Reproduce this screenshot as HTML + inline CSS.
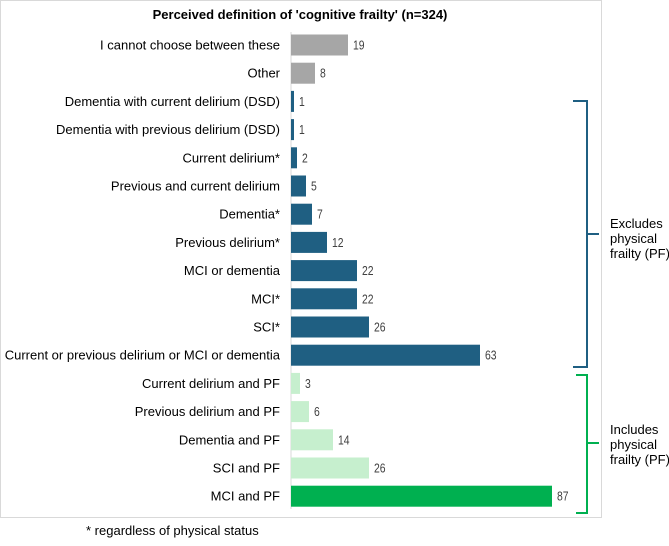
<!DOCTYPE html>
<html><head><meta charset="utf-8"><style>
body{margin:0;background:#fff;width:669px;height:541px;overflow:hidden;font-family:"Liberation Sans",Arial,sans-serif}
</style></head><body>
<svg width="669" height="541" xmlns="http://www.w3.org/2000/svg">
<rect x="0.5" y="0.5" width="601" height="517" fill="#fff" stroke="#d9d9d9"/>
<text x="300" y="19" text-anchor="middle" font-size="13" font-weight="bold" fill="#000">Perceived definition of 'cognitive frailty' (n=324)</text>
<line x1="291" y1="32" x2="291" y2="509" stroke="#d9d9d9"/>
<g id="bars"></g>
<path d="M573 101 H587 V234 H599 M587 234 V367 H573" fill="none" stroke="#1f5f82" stroke-width="2"/>
<path d="M576 375 H587 V443 H599 M587 443 V513 H576" fill="none" stroke="#00b050" stroke-width="2"/>
<g font-size="13" fill="#000">
<text x="610" y="228">Excludes</text><text x="610" y="243">physical</text><text x="610" y="258">frailty (PF)</text></g>
<g font-size="13" fill="#000">
<text x="610" y="434">Includes</text><text x="610" y="449">physical</text><text x="610" y="464">frailty (PF)</text></g>
<text x="86" y="535" font-size="13" fill="#000">* regardless of physical status</text>
</svg>
<script>
const categories=["I cannot choose between these","Other","Dementia with current delirium (DSD)","Dementia with previous delirium (DSD)","Current delirium*","Previous and current delirium","Dementia*","Previous delirium*","MCI or dementia","MCI*","SCI*","Current or previous delirium or MCI or dementia","Current delirium and PF","Previous delirium and PF","Dementia and PF","SCI and PF","MCI and PF"];
const values=[19,8,1,1,2,5,7,12,22,22,26,63,3,6,14,26,87];
const colors=["#a6a6a6","#a6a6a6","#1f5f82","#1f5f82","#1f5f82","#1f5f82","#1f5f82","#1f5f82","#1f5f82","#1f5f82","#1f5f82","#1f5f82","#c6efce","#c6efce","#c6efce","#c6efce","#00b050"];
const x0=291, xs=3.0, y0=45, step=28.2, bh=21;
const xScale=v=>x0+v*xs, yScale=i=>y0+i*step;
const g=document.getElementById('bars'), NS="http://www.w3.org/2000/svg";
categories.forEach((c,i)=>{
  const cy=yScale(i);
  const r=document.createElementNS(NS,'rect');
  r.setAttribute('x',x0);r.setAttribute('y',cy-bh/2);
  r.setAttribute('width',xScale(values[i])-x0);r.setAttribute('height',bh);
  r.setAttribute('fill',colors[i]);
  
  
  g.appendChild(r);
  const t=document.createElementNS(NS,'text');
  t.setAttribute('x',280);t.setAttribute('y',cy+4.5);t.setAttribute('text-anchor','end');
  t.setAttribute('font-size','13');t.setAttribute('fill','#000');t.textContent=c;
  
  
  g.appendChild(t);
  const v=document.createElementNS(NS,'text');
  const vx=xScale(values[i])+5;
  v.setAttribute('transform','translate('+vx+','+(cy+4.5)+') scale(0.8,1)');
  v.setAttribute('font-size','13');v.setAttribute('fill','#404040');v.textContent=values[i];
  
  
  g.appendChild(v);
});
</script>
</body></html>
